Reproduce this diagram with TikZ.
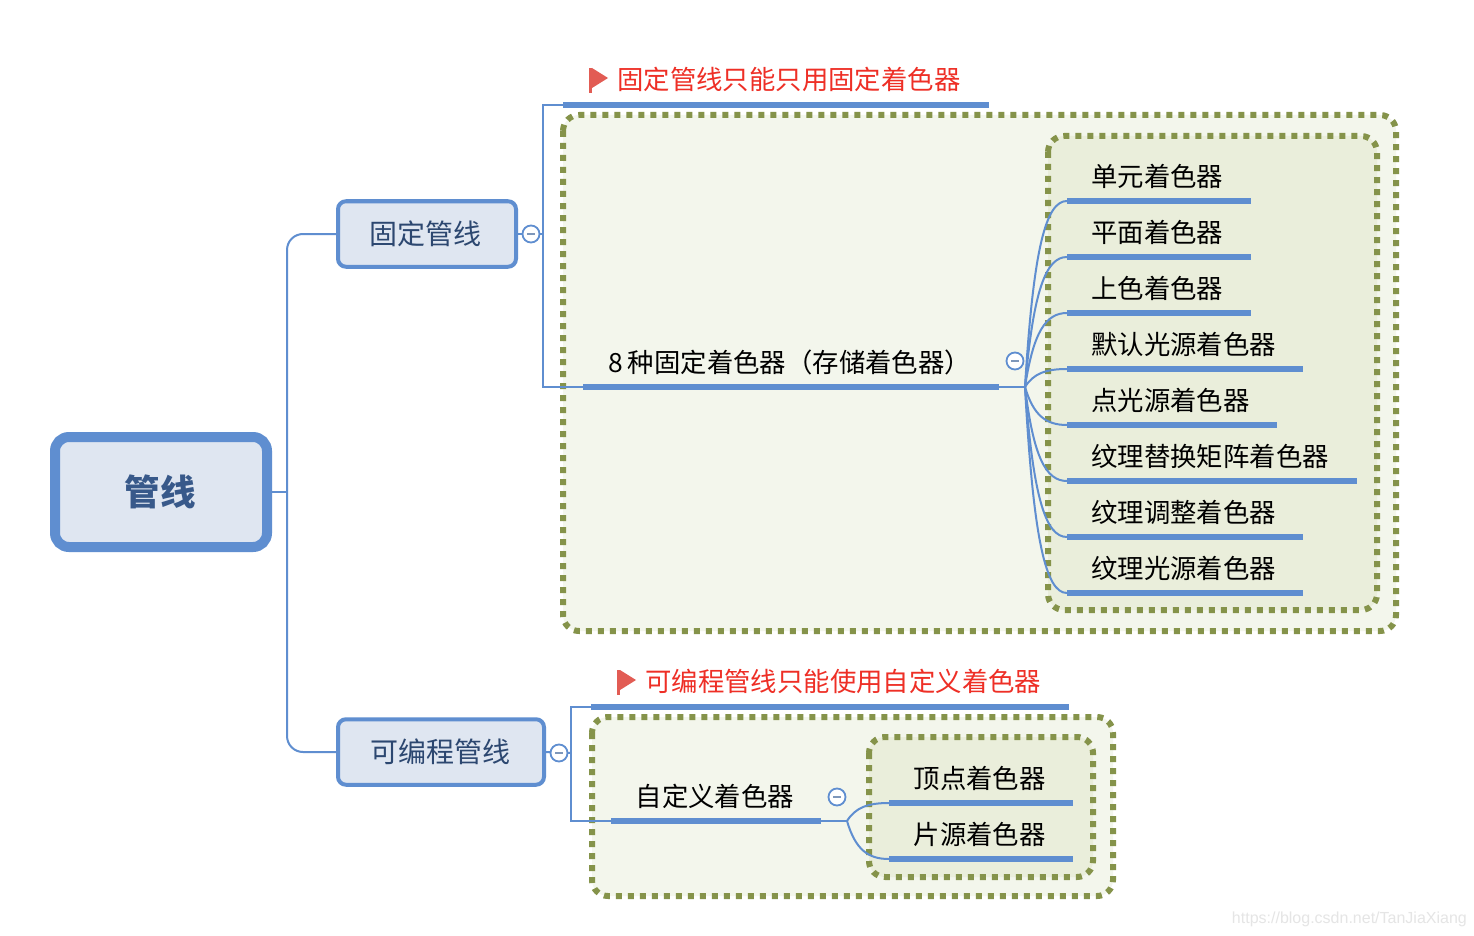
\documentclass[tikz,border=0pt]{standalone}
\usepackage{fontspec}
\setmainfont{Noto Sans CJK SC}
\setsansfont{Liberation Sans}
\usetikzlibrary{calc}
\definecolor{mapblue}{HTML}{5F8ED0}
\definecolor{boxfill}{HTML}{DFE6F1}
\definecolor{rootink}{HTML}{38598A}
\definecolor{topicink}{HTML}{2C4770}
\definecolor{flagred}{HTML}{E25C54}
\definecolor{notered}{HTML}{EE2F26}
\definecolor{dotgreen}{HTML}{85934A}
\definecolor{outerfill}{HTML}{F3F6EC}
\definecolor{innerfill}{HTML}{EAEEDB}
\tikzset{
  x=1pt,y=-1pt,
  boundary/.style={draw=dotgreen,line width=6pt,dash pattern=on 6pt off 6pt,rounded corners=16pt},
  rootbox/.style={draw=mapblue,fill=boxfill,line width=10pt,rounded corners=14pt,inner sep=0pt,text=rootink,font=\fontsize{35.5}{40}\selectfont\bfseries},
  topicbox/.style={draw=mapblue,fill=boxfill,line width=4pt,rounded corners=8pt,inner sep=0pt,text=topicink,font=\fontsize{28}{34}\selectfont},
  bar/.style={fill=mapblue,draw=none,inner sep=0pt,minimum height=6pt,anchor=west},
  label/.style={anchor=west,inner sep=0pt,text=black,font=\fontsize{26.4}{30}\selectfont,text height=21pt,text depth=5pt},
  notelabel/.style={label,text=notered},
  link/.style={draw=mapblue,line width=2pt},
  fold/.style={circle,draw=mapblue,fill=white,line width=1.8pt,minimum size=17pt,inner sep=0pt},
  foldmark/.style={draw=black!25!mapblue!70!white,line width=1.6pt},
  flagshape/.style={fill=flagred,draw=none},
}
\newcommand{\foldsign}[2]{\draw[foldmark] (#1-4,#2) -- (#1+4,#2);}
\newcommand{\branch}[2]{%
  \draw[link] let \p1=(#1),\p2=(#2) in (\p1) .. controls ({\x1+0.2*(\x2-\x1)},{\y1+0.75*(\y2-\y1)}) and ({\x1+0.5*(\x2-\x1)},\y2) .. (\p2);}
\begin{document}
\begin{tikzpicture}
\useasboundingbox (0,0) rectangle (1474,936);
\fill[white] (0,0) rectangle (1474,936);

% boundaries
\draw[boundary,fill=outerfill] (563,115) rectangle (1396,631);
\draw[boundary,fill=innerfill] (1048,136) rectangle (1377,610);
\draw[boundary,fill=outerfill] (592,717) rectangle (1113,896);
\draw[boundary,fill=innerfill] (869,737) rectangle (1093,877);

% central and main topics
\node[rootbox,minimum width=212pt,minimum height=110pt] (root) at (161,492) {\raisebox{1pt}{\hspace{-2pt}管线}};
\node[topicbox,minimum width=178pt,minimum height=65.5pt] (fixed) at (427,234) {\hspace{-3pt}固定管线};
\node[topicbox,minimum width=206pt,minimum height=65.5pt] (prog) at (441,752) {\hspace{-1pt}可编程管线};

\coordinate (trunk) at (287,492);
\draw[link] (root.east) -- (trunk);
\draw[link,rounded corners=16pt] (fixed.west) -- (287,234) -- (trunk) -- (287,752) -- (prog.west);

% fixed pipeline branch
\coordinate (brA) at (543,234);
\draw[link] (fixed.east) -- (brA);
\node[fold] (foldA) at (531,234) {};
\foldsign{531}{234}
\node[bar,minimum width=426pt] (noteA) at (563,105) {};
\node[bar,minimum width=416pt] (subA) at (583,387) {};
\draw[link] (noteA.west) -- (543,105) -- (brA) -- (543,387) -- (subA.west);
\fill[flagshape] (589,68) rectangle (592,93);
\fill[flagshape] (592,68) -- (608,78) -- (592,88) -- cycle;
\node[notelabel] (noteAt) at (617,82) {固定管线只能只用固定着色器};
\node[label] (subAt) at (608,364) {8\hspace{5pt}种固定着色器（存储着色器）};
\node[fold] (foldB) at (1015,361) {};
\foldsign{1015}{361}
\coordinate (hubA) at (1025,387);
\draw[link] (subA.east) -- (hubA);

% fixed leaves
\foreach \k/\yy/\w/\txt in {a/201/184/单元着色器,b/257/184/平面着色器,c/313/184/上色着色器,d/369/236/默认光源着色器,e/425/210/点光源着色器,f/481/290/纹理替换矩阵着色器,g/537/236/纹理调整着色器,h/593/236/纹理光源着色器}{
  \node[bar,minimum width=\w pt] (bar\k) at (1067,\yy) {};
  \node[label] (leaf\k) at (1091,\yy-23) {\txt};
  \branch{hubA}{bar\k.west}
}

% programmable pipeline branch
\coordinate (brC) at (571,753);
\draw[link] (prog.east) -- (brC);
\node[fold] (foldC) at (559,753) {};
\foldsign{559}{753}
\node[bar,minimum width=478pt] (noteC) at (591,707) {};
\node[bar,minimum width=210pt] (subC) at (611,821) {};
\draw[link] (noteC.west) -- (571,707) -- (brC) -- (571,821) -- (subC.west);
\fill[flagshape] (617,670) rectangle (620,695);
\fill[flagshape] (620,670) -- (636,680) -- (620,690) -- cycle;
\node[notelabel] (noteCt) at (645,683.5) {可编程管线只能使用自定义着色器};
\node[label] (subCt) at (635.5,798) {自定义着色器};
\node[fold] (foldD) at (837,797) {};
\foldsign{837}{797}
\coordinate (hubC) at (847,821);
\draw[link] (subC.east) -- (hubC);
\foreach \k/\yy/\txt in {i/803/顶点着色器,j/859/片源着色器}{
  \node[bar,minimum width=184pt] (bar\k) at (889,\yy) {};
  \node[label] (leaf\k) at (913.5,\yy-23) {\txt};
  \branch{hubC}{bar\k.west}
}

% watermark
\node[anchor=east,inner sep=0pt,text=black!10,font=\sffamily\fontsize{16}{18}\selectfont] (mark) at (1467,919) {https://blog.csdn.net/TanJiaXiang};
\end{tikzpicture}
\end{document}
